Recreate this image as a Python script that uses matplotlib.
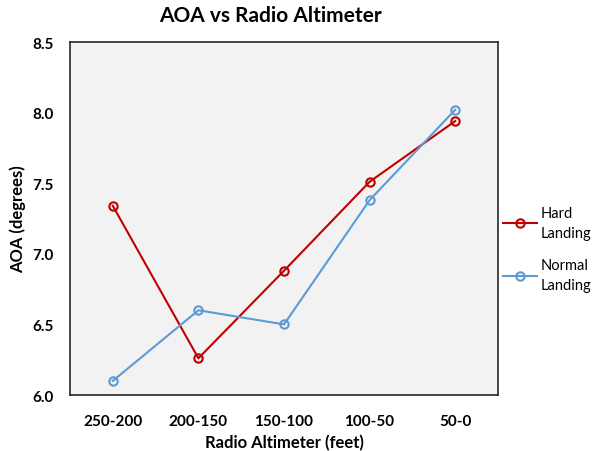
import matplotlib
matplotlib.use("Agg")
import matplotlib.pyplot as plt

categories = ["250-200", "200-150", "150-100", "100-50", "50-0"]
hard = [7.34, 6.26, 6.88, 7.51, 7.94]
normal = [6.10, 6.60, 6.50, 7.38, 8.02]
yticks = [6.0, 6.5, 7.0, 7.5, 8.0, 8.5]

plt.rcParams['font.family'] = ['Lato', 'DejaVu Sans']

fig = plt.figure(figsize=(5.93, 4.52), dpi=100)
ax = fig.add_axes([70/593, 1-396/452, (498-70)/593, (396-43)/452])
ax.set_facecolor('#F2F2F2')

x = list(range(len(categories)))
ax.plot(x, hard, color='#C00000', lw=1.5, marker='o', ms=6, mfc='none', mew=1.5, label='Hard\nLanding')
ax.plot(x, normal, color='#5B9BD5', lw=1.5, marker='o', ms=6, mfc='none', mew=1.5, label='Normal\nLanding')

ax.set_xlim(-0.5, len(categories) - 0.5)
ax.set_ylim(6.0, 8.5)
ax.set_xticks(x)
ax.set_xticklabels(categories, fontsize=11, fontweight='bold')
ax.set_yticks(yticks)
ax.set_yticklabels([f"{v:.1f}" for v in yticks], fontsize=11, fontweight='bold')
ax.tick_params(length=0, pad=14)
ax.tick_params(axis='y', pad=12)
for s in ax.spines.values():
    s.set_color('#262626')
    s.set_linewidth(1.2)

ax.set_xlabel('Radio Altimeter (feet)', fontsize=12, fontweight='bold', labelpad=4)
ax.set_ylabel('AOA (degrees)', fontsize=12, fontweight='bold', labelpad=4)
fig.text(270/593, 1-16/452, 'AOA vs Radio Altimeter', fontsize=15, fontweight='bold', ha='center', va='center')

leg = fig.legend(loc='center left', bbox_to_anchor=(503/593, 1-250/452), frameon=False,
                 fontsize=10.5, handlelength=2.3, labelspacing=1.3, handletextpad=0.3,
                 borderpad=0, borderaxespad=0)
for t in leg.get_texts():
    t.set_linespacing(1.5)

fig.savefig('out.png', dpi=100)
